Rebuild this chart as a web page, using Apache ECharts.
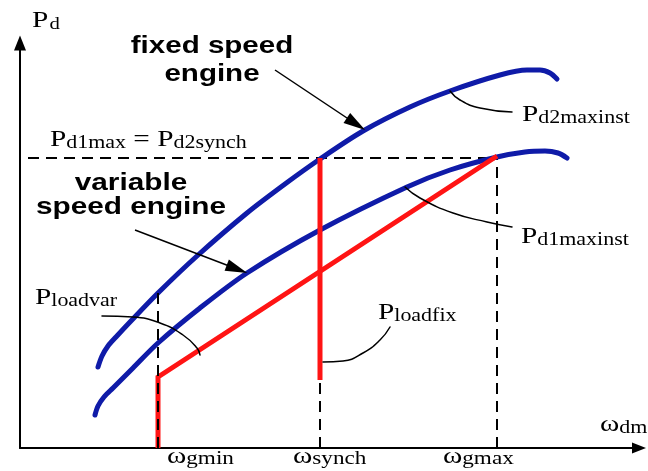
<!DOCTYPE html>
<html><head><meta charset="utf-8">
<script src="https://cdn.jsdelivr.net/npm/echarts@6/dist/echarts.min.js"></script>
<style>html,body{margin:0;padding:0;background:#fff}#c{width:648px;height:471px}</style>
</head><body><div id="c"></div>
<script>
// ---- data (ω on the horizontal axis, P on the vertical axis, arbitrary units) ----
const fixedEngine = [[78,81],[82,92],[88,102],[96,111],[110,126],[138,155],[177,192],[227,235],[265,264],[300,289],[343,317],[390,341],[430,357],[480,373],[507,378],[520,378],[530,375],[537,369]];
const variableEngine = [[75,33],[78,42],[84,51],[93,60],[113,80],[138,105],[180,140],[227,175],[300,218],[387,261],[430,278],[477,291],[505,296],[525,297],[538,295],[547,290]];
const loadVar = [[138,0],[138,71],[477,292]];
const loadFix = [[300,68],[300,290]];
const wTicks = [138, 300, 477];            // ω_gmin, ω_synch, ω_gmax
const wTickNames = ['gmin', 'synch', 'gmax'];
const pLevel = 290;                         // Pd1max = Pd2synch
const pLevelStart = 8;
const gminTop = 155;                        // where ω_gmin meets the fixed-speed curve
const leaderD2 = [[430,357],[440,348],[460,340],[492,336]];
const leaderD1 = [[385,261],[400,250],[433,235],[467,226],[492,221]];
const leaderVar = [[82,132],[113,131],[140,125],[163,113],[177,100],[180,93]];
const leaderFix = [[370,121],[360,108],[343,95],[323,87],[303,86]];
const arrowFixed = [[255,378],[336,324]];
const arrowVar = [[115,218],[217,179]];

const BLUE = '#0f1ba8', RED = '#ff1414';
const SERIF = '"Liberation Serif", "DejaVu Serif", serif';

function line(data, color, width, extra) {
  return Object.assign({
    type: 'line', data: data, symbol: 'none', silent: true, animation: false,
    lineStyle: {color: color, width: width, cap: 'round'}
  }, extra || {});
}
function dashed(data, z) {
  return line(data, '#000', 2, {z: z, lineStyle: {color: '#000', width: 2, type: [11, 7]}});
}

const series = [
  dashed([[pLevelStart, pLevel], [wTicks[2], pLevel]], 2),
  dashed([[wTicks[1], 0], [wTicks[1], pLevel]], 2),
  dashed([[wTicks[2], 0], [wTicks[2], pLevel]], 2),
  line(fixedEngine, BLUE, 5, {smooth: 0.3, z: 3}),
  line(variableEngine, BLUE, 5, {smooth: 0.3, z: 3}),
  line(loadVar, RED, 5, {z: 4, lineStyle: {color: RED, width: 5, cap: 'butt', join: 'miter'}}),
  line(loadFix, RED, 5, {z: 4, lineStyle: {color: RED, width: 5, cap: 'butt'}}),
  dashed([[wTicks[0], 0], [wTicks[0], gminTop]], 5),
  line(leaderD2, '#000', 1.5, {smooth: 0.5, z: 6}),
  line(leaderD1, '#000', 1.5, {smooth: 0.5, z: 6}),
  line(leaderVar, '#000', 1.5, {smooth: 0.5, z: 6}),
  line(leaderFix, '#000', 1.5, {smooth: 0.5, z: 6,
    markLine: {
      silent: true, animation: false, symbol: ['none', 'triangle'], symbolSize: [12, 22],
      label: {show: false},
      lineStyle: {color: '#000', width: 1.5, type: 'solid'},
      emphasis: {disabled: true},
      data: [
        [{coord: arrowFixed[0]}, {coord: arrowFixed[1]}],
        [{coord: arrowVar[0]}, {coord: arrowVar[1]}]
      ]
    }})
];

// ---- text helpers ----
function richLabel(x, baseline, text, mainFs, subFs, drop, gap, sx) {
  const H = mainFs + 2, mb = H / 2 + 0.34 * mainFs;
  const L = 2 * (H + 0.34 * subFs - mb - drop);
  return {
    type: 'text', x: x, y: baseline - mb, scaleX: sx || 1.22, z: 100, silent: true,
    style: {
      text: text, fill: '#000', align: 'left', verticalAlign: 'top',
      rich: {
        m: {fontFamily: SERIF, fontSize: mainFs, lineHeight: H, verticalAlign: 'bottom', fill: '#000'},
        s: {fontFamily: SERIF, fontSize: subFs, lineHeight: L, verticalAlign: 'bottom', fill: '#000', padding: [0, 0, 0, gap || 0]}
      }
    }
  };
}
function boldText(cx, top, text, lh, sx) {
  return {
    type: 'text', x: cx, y: top, scaleX: sx, z: 100, silent: true,
    style: {text: text, fill: '#000', font: 'bold 24px "Liberation Sans", Arial, sans-serif',
      lineHeight: lh, align: 'center', verticalAlign: 'top'}
  };
}

const tickLabelX = [167, 293, 443];
const graphics = [
  richLabel(32, 28, '{m|P}{s|d}', 24, 17, 4, 1),
  richLabel(50, 147, '{m|P}{s|d1max}{m| = P}{s|d2synch}', 24, 18, 2, 0),
  richLabel(522, 122, '{m|P}{s|d2maxinst}', 24, 18, 2, 0),
  richLabel(521, 244, '{m|P}{s|d1maxinst}', 24, 18, 2, 0),
  richLabel(35, 305, '{m|P}{s|loadvar}', 24, 18, 2, 0),
  richLabel(378, 320, '{m|P}{s|loadfix}', 24, 18, 2, 0),
  richLabel(600, 432, '{m|ω}{s|dm}', 24, 18, 3, 0),
  boldText(212, 32.6, 'fixed speed\nengine', 28, 1.23),
  boldText(131, 171.6, 'variable\nspeed engine', 24, 1.24)
];
wTickNames.forEach(function (n, i) {
  graphics.push(richLabel(tickLabelX[i], 464, '{m|ω}{s|' + n + '}', 24, 19, 3, 0));
});

const chart = echarts.init(document.getElementById('c'), null, {renderer: 'canvas'});
chart.setOption({
  animation: false,
  backgroundColor: '#fff',
  grid: {left: 20, right: 9, top: 43, bottom: 23},
  xAxis: {
    type: 'value', min: 0, max: 619,
    axisLine: {show: true, onZero: false, symbol: ['none', 'triangle'], symbolSize: [11, 14], lineStyle: {color: '#000', width: 2}},
    axisTick: {show: false}, axisLabel: {show: false}, splitLine: {show: false}
  },
  yAxis: {
    type: 'value', min: 0, max: 405,
    axisLine: {show: true, onZero: false, symbol: ['none', 'triangle'], symbolSize: [12, 15], lineStyle: {color: '#000', width: 2}},
    axisTick: {show: false}, axisLabel: {show: false}, splitLine: {show: false}
  },
  series: series,
  graphic: graphics
});
</script></body></html>
